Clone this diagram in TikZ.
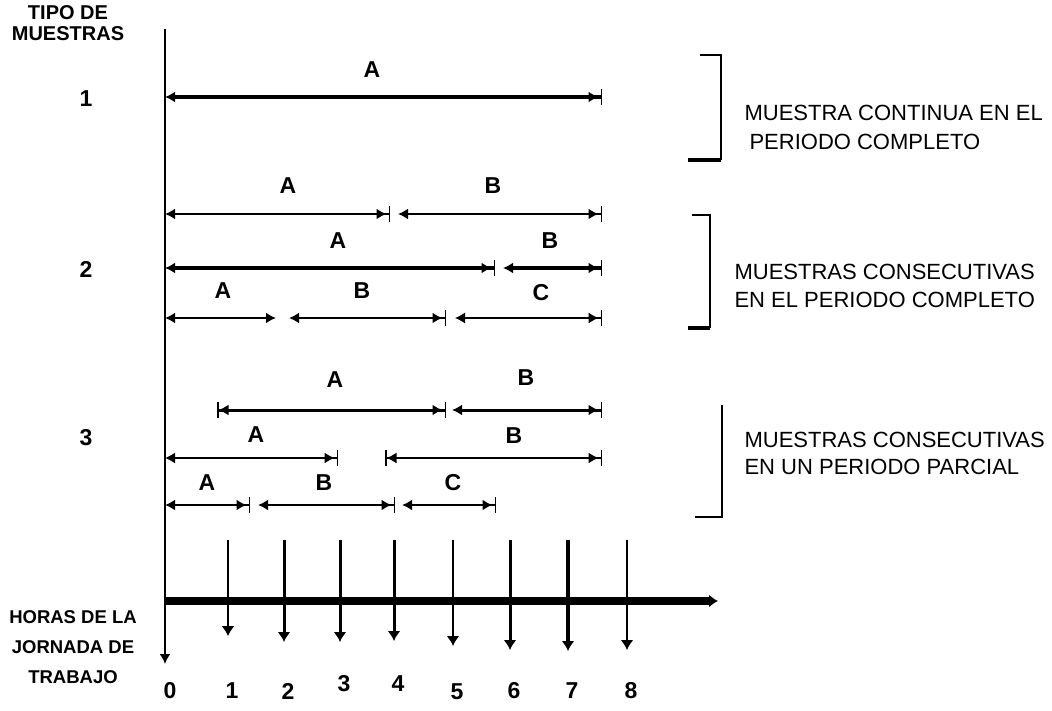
\documentclass[tikz,border=0pt]{standalone}
\usepackage{fontspec}
\setmainfont{Liberation Sans}
\usetikzlibrary{arrows.meta}

\begin{document}
\begin{tikzpicture}[x=1pt,y=-1pt,
    seg/.style={line width=#1, {Latex[length=10pt,width=11pt]}-{Latex[length=10pt,width=11pt,sep=2pt]Bar[width=16pt,line width=1.5pt]}},
    segb/.style={line width=#1, {Bar[width=16pt,line width=1.5pt,sep=2pt]Latex[length=10pt,width=11pt]}-{Latex[length=10pt,width=11pt,sep=2pt]Bar[width=16pt,line width=1.5pt]}},
    lbl/.style={font=\bfseries\fontsize{23}{26}\selectfont},
    txt/.style={anchor=west, font=\fontsize{22}{26}\selectfont}]
    \useasboundingbox (0,0) rectangle (1052,711);
    % left titles
    \node[align=center, font=\bfseries\fontsize{20}{21}\selectfont] (tipo) at (68,23) {TIPO DE\\MUESTRAS};
    \node[align=center, font=\bfseries\fontsize{18.5}{30}\selectfont] (horas) at (73,647) {HORAS DE LA\\JORNADA DE\\TRABAJO};
    \node[lbl] (t1) at (86,99) {1};
    \node[lbl] (t2) at (86,269) {2};
    \node[lbl] (t3) at (86,438) {3};
    % axis
    \draw[line width=2.5pt, -{Latex[length=10pt,width=11pt]}] (165,29) -- (165,664);
    % tipo 1
    \draw[seg=4pt] (165,97) -- (602,97);
    \node[lbl] (a1) at (372,70) {A};
    % tipo 2
    \draw[seg=2.5pt] (165,214) -- (390,214);
    \draw[seg=2.5pt] (398,214) -- (602,214);
    \draw[seg=4pt] (165,268) -- (495,268);
    \draw[seg=4pt] (503,268) -- (602,268);
    \draw[line width=2pt, {Latex[length=10pt,width=11pt]}-{Latex[length=10pt,width=11pt]}] (165,318) -- (276,318);
    \draw[seg=2pt] (289,318) -- (446,318);
    \draw[seg=1.2pt] (455,318) -- (602,318);
    \node[lbl] (a2) at (288,186) {A};
    \node[lbl] (b2) at (493,186) {B};
    \node[lbl] (a3) at (338,241) {A};
    \node[lbl] (b3) at (550,241) {B};
    \node[lbl] (a4) at (223,291) {A};
    \node[lbl] (b4) at (362,291) {B};
    \node[lbl] (c4) at (541,293) {C};
    % tipo 3
    \draw[segb=3pt] (215,410) -- (446,410);
    \draw[seg=3pt] (452,410) -- (602,410);
    \draw[seg=1.5pt] (165,458) -- (338,458);
    \draw[segb=1.5pt] (383,458) -- (602,458);
    \draw[seg=2.5pt] (165,505) -- (250,505);
    \draw[seg=2.5pt] (258,505) -- (395,505);
    \draw[seg=2pt] (402,505) -- (496,505);
    \node[lbl] (a5) at (335,380) {A};
    \node[lbl] (b5) at (526,378) {B};
    \node[lbl] (a6) at (256,435) {A};
    \node[lbl] (b6) at (514,436) {B};
    \node[lbl] (a7) at (207,483) {A};
    \node[lbl] (b7) at (324,483) {B};
    \node[lbl] (c7) at (453,483) {C};
    % brackets
    \draw[line width=2pt] (700,55) -- (721,55) -- (721,160);
    \draw[line width=4pt] (721,160) -- (688,160);
    \draw[line width=2pt] (692,215) -- (710,215) -- (710,328);
    \draw[line width=4pt] (710,328) -- (688,328);
    \draw[line width=1.8pt] (722,405) -- (722,517) -- (695,517);
    \node[txt] (d1) at (741,113) {MUESTRA CONTINUA EN EL};
    \node[txt] (e1) at (746,142) {PERIODO COMPLETO};
    \node[txt] (d2) at (731,272) {MUESTRAS CONSECUTIVAS};
    \node[txt] (e2) at (731,300) {EN EL PERIODO COMPLETO};
    \node[txt] (d3) at (741,440) {MUESTRAS CONSECUTIVAS};
    \node[txt] (e3) at (741,467) {EN UN PERIODO PARCIAL};
    % horas de la jornada
    \draw[line width=8pt, -{Latex[length=9pt,width=13pt]}] (165,601) -- (718,601);
    \foreach \x/\e/\w/\n/\ny in {228/636/1.5pt/1/691, 284/642/3pt/2/691, 340/642/3pt/3/684,
        394/641/3pt/4/684, 453/646/2pt/5/692, 510/650/3pt/6/691, 568/651/4.5pt/7/691, 627/650/2pt/8/691}
    {
        \draw[line width=\w, -{Latex[length=10pt,width=13pt]}] (\x,540) -- (\x,\e);
        \node[lbl] (h\n) at (\x+4,\ny) {\n};
    }
    \node[lbl] (h0) at (170,691) {0};
\end{tikzpicture}
\end{document}
